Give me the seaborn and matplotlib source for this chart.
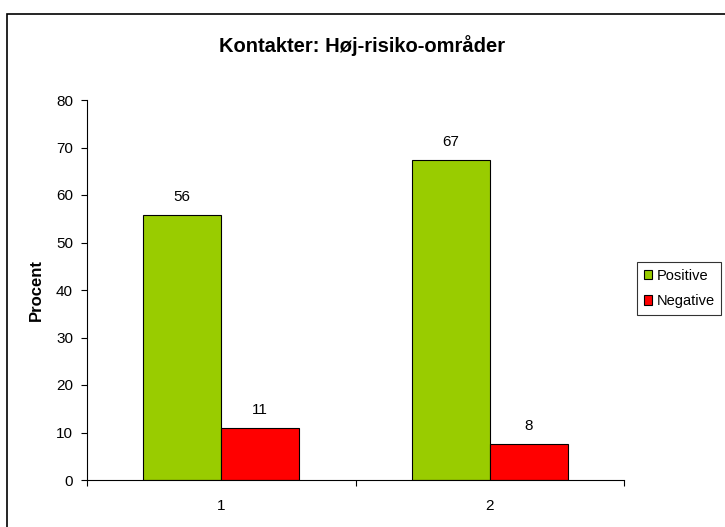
import pandas as pd
import matplotlib.pyplot as plt
import seaborn as sns
from matplotlib.patches import Rectangle

# data
groups = ["1", "2"]
positive = [55.7, 67.3]
negative = [10.9, 7.6]
series_names = ["Positive", "Negative"]
palette = ["#99CC00", "#FF0000"]

df = pd.DataFrame({
    "gruppe": groups * 2,
    "serie": [series_names[0]] * 2 + [series_names[1]] * 2,
    "procent": positive + negative,
})

sns.set_style("white")
plt.rcParams['font.family'] = ['Liberation Sans', 'DejaVu Sans']
plt.rcParams.update({"text.color": "black", "axes.labelcolor": "black",
                     "xtick.color": "black", "ytick.color": "black"})

fig = plt.figure(figsize=(7.25, 5.27), dpi=100)
ax = fig.add_axes([87 / 725, 47 / 527, (624 - 87) / 725, 380 / 527])

sns.barplot(data=df, x="gruppe", y="procent", hue="serie", palette=palette,
            width=0.58, gap=0, edgecolor="black", linewidth=0.8,
            saturation=1, ax=ax)

# value labels
for cont in ax.containers:
    ax.bar_label(cont, labels=[f"{v:.0f}" for v in cont.datavalues],
                 padding=8, fontsize=11)

ax.set_ylim(0, 80)
ax.set_xlim(-0.5, 1.5)
ax.set_yticks(range(0, 81, 10))
ax.set_xlabel("")
ax.set_ylabel("Procent", fontsize=12, fontweight="bold")
ax.yaxis.set_label_coords(-0.080, 0.5)

# title centred on the whole chart
fig.text(362.5 / 725, 1 - 46 / 527, "Kontakter: Høj-risiko-områder",
         fontsize=14.5, fontweight="bold", ha="center", va="center")

for s in ["top", "right"]:
    ax.spines[s].set_visible(False)
ax.spines["left"].set_color("black")
ax.spines["bottom"].set_color("black")
ax.spines["left"].set_linewidth(0.8)
ax.spines["bottom"].set_linewidth(0.8)

ax.tick_params(axis="y", which="major", direction="out", length=4,
               width=0.8, left=True, labelsize=11, pad=6)
ax.tick_params(axis="x", which="major", length=0, labelsize=11, pad=14)
ax.set_xticks([-0.5, 0.5, 1.5], minor=True)
ax.tick_params(axis="x", which="minor", direction="out", length=4,
               width=0.8, bottom=True)

ax.legend(loc="upper left", bbox_to_anchor=(637 / 725, 1 - 262 / 527),
          bbox_transform=fig.transFigure, frameon=True, fancybox=False,
          edgecolor="black", fontsize=10.5, handlelength=0.6,
          handleheight=0.6, handletextpad=0.3, borderpad=0.45,
          labelspacing=0.8, borderaxespad=0)
ax.get_legend().get_frame().set_linewidth(0.8)

# outer chart border
fig.patches.append(Rectangle((7 / 725, -0.05), 1.0, 1 - 14 / 527 + 0.05,
                             transform=fig.transFigure, fill=False,
                             edgecolor="black", linewidth=1.2))

fig.savefig("out.png", dpi=100)
